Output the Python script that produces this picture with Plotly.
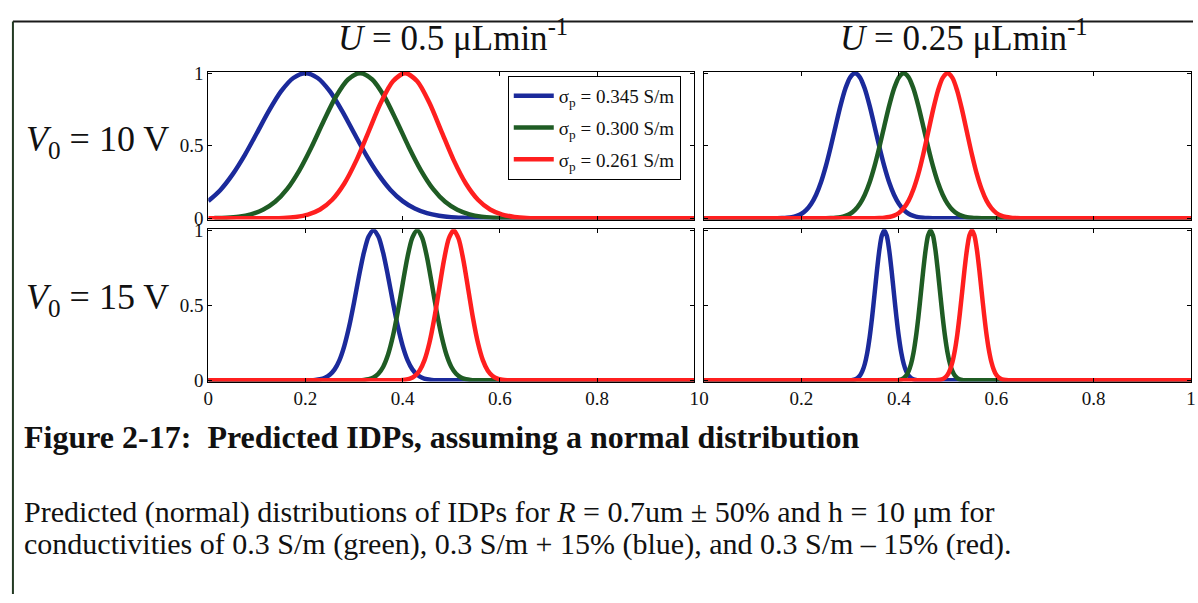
import plotly.graph_objects as go

W, H = 1198, 603

# ---------------------------------------------------------------
# Normalised IDP curves, one x/y list per curve.
# v10 / v15 : V0 = 10 V / 15 V ;  u050 / u025 : U = 0.5 / 0.25 uL/min
# ---------------------------------------------------------------

# V0 = 10 V, U = 0.5
blue_x_v10_u050 = [0, 0.025, 0.05, 0.075, 0.1, 0.125, 0.15, 0.175, 0.2, 0.225, 0.25, 0.275,
                   0.3, 0.325, 0.35, 0.375, 0.4, 0.425, 0.45, 0.475, 0.5, 0.525, 0.55, 0.575, 1.0]
blue_y_v10_u050 = [0.119, 0.196, 0.303, 0.436, 0.588, 0.742, 0.876, 0.967, 1.0, 0.967, 0.876, 0.742,
                   0.588, 0.436, 0.303, 0.196, 0.119, 0.068, 0.036, 0.018, 0.008, 0.004, 0.002, 0.001, 0.0]
green_x_v10_u050 = [0.0125, 0.0375, 0.0625, 0.0875, 0.1125, 0.1375, 0.1625, 0.1875, 0.2125, 0.2375,
                    0.2625, 0.2875, 0.3125, 0.3375, 0.3625, 0.3875, 0.4125, 0.4375, 0.4625, 0.4875,
                    0.5125, 0.5375, 0.5625, 0.5875, 0.6125, 0.6375, 1.0]
green_y_v10_u050 = [0.002, 0.005, 0.012, 0.028, 0.059, 0.114, 0.203, 0.331, 0.492, 0.671,
                    0.838, 0.957, 1.0, 0.957, 0.838, 0.671, 0.492, 0.331, 0.203, 0.114,
                    0.059, 0.028, 0.012, 0.005, 0.002, 0.001, 0.0]
red_x_v10_u050 = [0, 0.13, 0.155, 0.18, 0.205, 0.23, 0.255, 0.28, 0.305, 0.33, 0.355, 0.38, 0.405,
                  0.43, 0.455, 0.48, 0.505, 0.53, 0.555, 0.58, 0.605, 0.63, 0.655, 0.68, 0.705, 1.0]
red_y_v10_u050 = [0, 0.001, 0.003, 0.010, 0.026, 0.061, 0.128, 0.240, 0.401, 0.598, 0.796, 0.945, 1.0,
                  0.945, 0.796, 0.598, 0.401, 0.240, 0.128, 0.061, 0.026, 0.010, 0.003, 0.001, 0.0, 0.0]

# V0 = 10 V, U = 0.25
blue_x_v10_u025 = [0, 0.15, 0.16, 0.17, 0.18, 0.19, 0.20, 0.21, 0.22, 0.23, 0.24, 0.25, 0.26, 0.27,
                   0.28, 0.29, 0.30, 0.31, 0.32, 0.33, 0.34, 0.35, 0.36, 0.37, 0.38, 0.39, 0.40,
                   0.41, 0.42, 0.43, 0.44, 0.45, 0.46, 0.47, 1.0]
blue_y_v10_u025 = [0, 0.001, 0.002, 0.004, 0.008, 0.017, 0.032, 0.059, 0.101, 0.163, 0.249, 0.360,
                   0.492, 0.635, 0.775, 0.893, 0.972, 1.0, 0.972, 0.893, 0.775, 0.635, 0.492, 0.360,
                   0.249, 0.163, 0.101, 0.059, 0.032, 0.017, 0.008, 0.004, 0.002, 0.001, 0]
green_x_v10_u025 = [0, 0.25, 0.26, 0.27, 0.28, 0.29, 0.30, 0.31, 0.32, 0.33, 0.34, 0.35, 0.36, 0.37,
                    0.38, 0.39, 0.40, 0.41, 0.42, 0.43, 0.44, 0.45, 0.46, 0.47, 0.48, 0.49, 0.50,
                    0.51, 0.52, 0.53, 0.54, 0.55, 0.56, 0.57, 1.0]
green_y_v10_u025 = [0, 0.001, 0.002, 0.004, 0.008, 0.017, 0.032, 0.059, 0.101, 0.163, 0.249, 0.360,
                    0.492, 0.635, 0.775, 0.893, 0.972, 1.0, 0.972, 0.893, 0.775, 0.635, 0.492, 0.360,
                    0.249, 0.163, 0.101, 0.059, 0.032, 0.017, 0.008, 0.004, 0.002, 0.001, 0]
red_x_v10_u025 = [0, 0.35, 0.36, 0.37, 0.38, 0.39, 0.40, 0.41, 0.42, 0.43, 0.44, 0.45, 0.46, 0.47,
                  0.48, 0.49, 0.50, 0.51, 0.52, 0.53, 0.54, 0.55, 0.56, 0.57, 0.58, 0.59, 0.60,
                  0.61, 0.62, 0.63, 0.64, 0.65, 1.0]
red_y_v10_u025 = [0, 0.001, 0.002, 0.004, 0.009, 0.019, 0.037, 0.070, 0.122, 0.200, 0.306, 0.440,
                  0.591, 0.744, 0.877, 0.968, 1.0, 0.968, 0.877, 0.744, 0.591, 0.440, 0.306, 0.200,
                  0.122, 0.070, 0.037, 0.019, 0.009, 0.004, 0.002, 0.001, 0]

# V0 = 15 V, U = 0.5
blue_x_v15_u050 = [0, 0.20, 0.21, 0.22, 0.23, 0.24, 0.25, 0.26, 0.27, 0.28, 0.29, 0.30, 0.31, 0.32,
                   0.33, 0.34, 0.35, 0.36, 0.37, 0.38, 0.39, 0.40, 0.41, 0.42, 0.43, 0.44, 0.45,
                   0.46, 0.47, 0.48, 1.0]
blue_y_v15_u050 = [0, 0.0, 0.001, 0.003, 0.007, 0.017, 0.037, 0.073, 0.135, 0.230, 0.360, 0.520,
                   0.693, 0.849, 0.960, 1.0, 0.960, 0.849, 0.693, 0.520, 0.360, 0.230, 0.135, 0.073,
                   0.037, 0.017, 0.007, 0.003, 0.001, 0.0, 0]
green_x_v15_u050 = [0, 0.30, 0.31, 0.32, 0.33, 0.34, 0.35, 0.36, 0.37, 0.38, 0.39, 0.40, 0.41, 0.42,
                    0.43, 0.44, 0.45, 0.46, 0.47, 0.48, 0.49, 0.50, 0.51, 0.52, 0.53, 0.54, 0.55,
                    0.56, 1.0]
green_y_v15_u050 = [0, 0.0, 0.001, 0.003, 0.008, 0.019, 0.044, 0.091, 0.172, 0.295, 0.458, 0.644,
                    0.823, 0.952, 1.0, 0.952, 0.823, 0.644, 0.458, 0.295, 0.172, 0.091, 0.044,
                    0.019, 0.008, 0.003, 0.001, 0.0, 0]
red_x_v15_u050 = [0, 0.385, 0.395, 0.405, 0.415, 0.425, 0.435, 0.445, 0.455, 0.465, 0.475, 0.485,
                  0.495, 0.505, 0.515, 0.525, 0.535, 0.545, 0.555, 0.565, 0.575, 0.585, 0.595,
                  0.605, 0.615, 0.625, 1.0]
red_y_v15_u050 = [0, 0.0, 0.001, 0.004, 0.011, 0.029, 0.066, 0.135, 0.249, 0.411, 0.607, 0.801,
                  0.946, 1.0, 0.946, 0.801, 0.607, 0.411, 0.249, 0.135, 0.066, 0.029, 0.011,
                  0.004, 0.001, 0.0, 0]

# V0 = 15 V, U = 0.25
blue_x_v15_u025 = [0, 0.295, 0.30, 0.305, 0.31, 0.315, 0.32, 0.325, 0.33, 0.335, 0.34, 0.345, 0.35,
                   0.355, 0.36, 0.365, 0.37, 0.375, 0.38, 0.385, 0.39, 0.395, 0.40, 0.405, 0.41,
                   0.415, 0.42, 0.425, 0.43, 0.435, 0.44, 0.445, 1.0]
blue_y_v15_u025 = [0, 0.0, 0.001, 0.003, 0.007, 0.015, 0.031, 0.061, 0.109, 0.183, 0.288, 0.421,
                   0.575, 0.732, 0.871, 0.966, 1.0, 0.966, 0.871, 0.732, 0.575, 0.421, 0.288,
                   0.183, 0.109, 0.061, 0.031, 0.015, 0.007, 0.003, 0.001, 0.0, 0]
green_x_v15_u025 = [0, 0.39, 0.395, 0.40, 0.405, 0.41, 0.415, 0.42, 0.425, 0.43, 0.435, 0.44, 0.445,
                    0.45, 0.455, 0.46, 0.465, 0.47, 0.475, 0.48, 0.485, 0.49, 0.495, 0.50, 0.505,
                    0.51, 0.515, 0.52, 0.525, 0.53, 0.535, 0.54, 1.0]
green_y_v15_u025 = [0, 0.0, 0.001, 0.003, 0.007, 0.015, 0.031, 0.061, 0.109, 0.183, 0.288, 0.421,
                    0.575, 0.732, 0.871, 0.966, 1.0, 0.966, 0.871, 0.732, 0.575, 0.421, 0.288,
                    0.183, 0.109, 0.061, 0.031, 0.015, 0.007, 0.003, 0.001, 0.0, 0]
red_x_v15_u025 = [0, 0.475, 0.48, 0.485, 0.49, 0.495, 0.50, 0.505, 0.51, 0.515, 0.52, 0.525, 0.53,
                  0.535, 0.54, 0.545, 0.55, 0.555, 0.56, 0.565, 0.57, 0.575, 0.58, 0.585, 0.59,
                  0.595, 0.60, 0.605, 0.61, 0.615, 0.62, 0.625, 1.0]
red_y_v15_u025 = [0, 0.001, 0.002, 0.004, 0.009, 0.019, 0.037, 0.070, 0.122, 0.200, 0.306, 0.440,
                  0.591, 0.744, 0.877, 0.968, 1.0, 0.968, 0.877, 0.744, 0.591, 0.440, 0.306,
                  0.200, 0.122, 0.070, 0.037, 0.019, 0.009, 0.004, 0.002, 0.001, 0]

sigma_values = ["0.345", "0.300", "0.261"]   # blue, green, red
x_tick_vals = [0, 0.2, 0.4, 0.6, 0.8, 1]
x_tick_text = ["0", "0.2", "0.4", "0.6", "0.8", "1"]
y_tick_vals = [0, 0.5, 1]
y_tick_text = ["0", "0.5", "1"]

col_titles = ["<i>U</i> = 0.5 \u03bcLmin<sup>-1</sup>", "<i>U</i> = 0.25 \u03bcLmin<sup>-1</sup>"]
row_titles = ["<i>V</i><sub>0</sub> = 10 V", "<i>V</i><sub>0</sub> = 15 V"]
caption_title = "Figure 2-17:\u00a0\u00a0Predicted IDPs, assuming a normal distribution"
caption_lines = [
    "Predicted (normal) distributions of IDPs for <i>R</i> = 0.7um \u00b1 50% and h = 10 \u03bcm for",
    "conductivities of 0.3 S/m (green), 0.3 S/m + 15% (blue), and 0.3 S/m \u2013 15% (red).",
]

# ---------------------------------------------------------------
BLUE, GREEN, RED = "#1b2a9b", "#1f5c24", "#ff1f1f"
SERIF = "Liberation Serif, Times New Roman, serif"
INK = "#111111"


def fx(px):
    return px / W


def fy(py):
    return 1 - py / H


panels = [
    ("x", "y", [(blue_x_v10_u050, blue_y_v10_u050), (green_x_v10_u050, green_y_v10_u050),
                (red_x_v10_u050, red_y_v10_u050)]),
    ("x2", "y2", [(blue_x_v10_u025, blue_y_v10_u025), (green_x_v10_u025, green_y_v10_u025),
                  (red_x_v10_u025, red_y_v10_u025)]),
    ("x3", "y3", [(blue_x_v15_u050, blue_y_v15_u050), (green_x_v15_u050, green_y_v15_u050),
                  (red_x_v15_u050, red_y_v15_u050)]),
    ("x4", "y4", [(blue_x_v15_u025, blue_y_v15_u025), (green_x_v15_u025, green_y_v15_u025),
                  (red_x_v15_u025, red_y_v15_u025)]),
]
colors = [BLUE, GREEN, RED]

fig = go.Figure()
for p, (xa, ya, curves) in enumerate(panels):
    for c, (xs, ys) in enumerate(curves):
        fig.add_trace(go.Scatter(
            x=xs, y=ys, xaxis=xa, yaxis=ya, mode="lines",
            line=dict(color=colors[c], width=4.5, shape="spline", smoothing=0.8),
            name="\u03c3<sub>p</sub> = %s S/m" % sigma_values[c],
            legendgroup="g%d" % c, showlegend=(p == 0), hoverinfo="skip",
        ))

x_left = [fx(205), fx(695)]
x_right = [fx(705), fx(1196)]
y_top = [fy(217), fy(65)]
y_bot = [fy(384), fy(227)]

tickfont = dict(family=SERIF, size=19, color=INK)


def xaxis(domain, anchor, labels):
    return dict(domain=domain, anchor=anchor, range=[0, 1], tickvals=x_tick_vals,
                ticktext=x_tick_text, showticklabels=labels, ticks="inside", ticklen=4,
                tickcolor="black", showline=True, linecolor="black", linewidth=1,
                mirror="ticks", showgrid=False, zeroline=False, tickfont=tickfont,
                fixedrange=True)


def yaxis(domain, anchor, labels):
    return dict(domain=domain, anchor=anchor, range=[-0.008, 1.008], tickvals=y_tick_vals,
                ticktext=y_tick_text, showticklabels=labels, ticks="inside", ticklen=4,
                tickcolor="black", showline=True, linecolor="black", linewidth=1,
                mirror="ticks", showgrid=False, zeroline=False, tickfont=tickfont,
                fixedrange=True)


annotations = [
    dict(text=col_titles[0], x=fx(452), y=fy(27), xanchor="center", yanchor="middle",
         font=dict(family=SERIF, size=35, color=INK)),
    dict(text=col_titles[1], x=fx(967), y=fy(27), xanchor="center", yanchor="middle",
         font=dict(family=SERIF, size=35, color=INK)),
    dict(text=row_titles[0], x=fx(19), y=fy(137), xanchor="left", yanchor="middle",
         font=dict(family=SERIF, size=36, color=INK)),
    dict(text=row_titles[1], x=fx(19), y=fy(299), xanchor="left", yanchor="middle",
         font=dict(family=SERIF, size=36, color=INK)),
    dict(text="<b>%s</b>" % caption_title,
         x=fx(17), y=fy(441), xanchor="left", yanchor="middle",
         font=dict(family=SERIF, size=32, color=INK)),
    dict(text=caption_lines[0], x=fx(17), y=fy(518), xanchor="left", yanchor="middle",
         font=dict(family=SERIF, size=30, color=INK)),
    dict(text=caption_lines[1], x=fx(17), y=fy(551), xanchor="left", yanchor="middle",
         font=dict(family=SERIF, size=30, color=INK)),
]
for a in annotations:
    a.update(xref="paper", yref="paper", showarrow=False)

shapes = [
    dict(type="line", xref="paper", yref="paper", x0=fx(8), x1=1.0, y0=fy(13), y1=fy(13),
         line=dict(color="#1a1a1a", width=2)),
    dict(type="line", xref="paper", yref="paper", x0=fx(8), x1=fx(8), y0=fy(13), y1=0,
         line=dict(color="#233a23", width=2)),
]

fig.update_layout(
    width=W, height=H, margin=dict(l=0, r=0, t=0, b=0),
    paper_bgcolor="white", plot_bgcolor="white",
    xaxis=xaxis(x_left, "y", False), yaxis=yaxis(y_top, "x", True),
    xaxis2=xaxis(x_right, "y2", False), yaxis2=yaxis(y_top, "x2", False),
    xaxis3=xaxis(x_left, "y3", True), yaxis3=yaxis(y_bot, "x3", True),
    xaxis4=xaxis(x_right, "y4", True), yaxis4=yaxis(y_bot, "x4", False),
    showlegend=True,
    legend=dict(x=fx(507), y=fy(69), xanchor="left", yanchor="top", bgcolor="white",
                bordercolor="black", borderwidth=1, tracegroupgap=4, itemwidth=40,
                font=dict(family=SERIF, size=19, color=INK)),
    annotations=annotations, shapes=shapes,
)

fig.write_html("out.html")
